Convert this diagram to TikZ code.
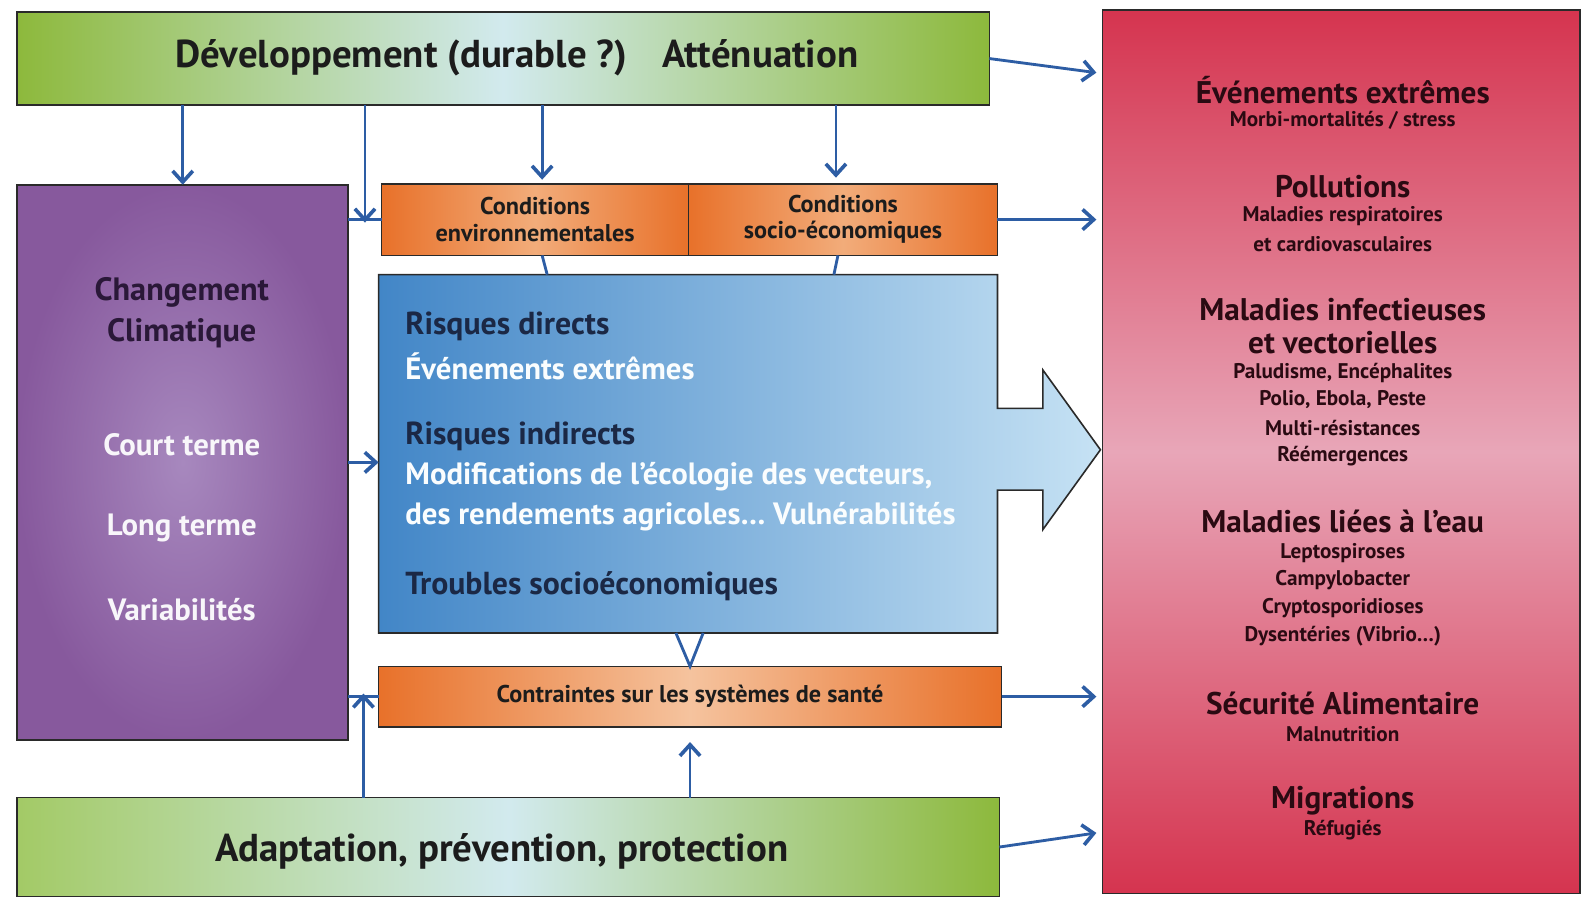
\documentclass[tikz,border=0pt]{standalone}
\usepackage{fontspec}
\setmainfont{PT Sans}
\usetikzlibrary{arrows.meta,calc}

\definecolor{linkblue}{HTML}{2D5DA4}
\definecolor{edge}{HTML}{2A2A2A}
\definecolor{ink}{HTML}{1C1C1C}
\definecolor{navy}{HTML}{1B2845}
\definecolor{plum}{HTML}{2A1838}
\definecolor{wine}{HTML}{2A0A12}
\definecolor{greenA}{HTML}{8DB93C}
\definecolor{greenB}{HTML}{A3CA66}
\definecolor{paleCyan}{HTML}{D2EAEE}
\definecolor{purpleOut}{HTML}{87599D}
\definecolor{purpleIn}{HTML}{A788BE}
\definecolor{redTop}{HTML}{D5344F}
\definecolor{redMid}{HTML}{E8A6B8}
\definecolor{orangeOut}{HTML}{E8712A}
\definecolor{orangeIn}{HTML}{F5C39E}
\definecolor{orangeSoft}{HTML}{F2AC7A}
\definecolor{blueDark}{HTML}{4286C7}
\definecolor{blueLight}{HTML}{C6E2F4}

\tikzset{
  box/.style={draw=edge, line width=1.6pt, inner sep=0pt, outer sep=0pt, anchor=north west},
  greenbar/.style={box, left color=greenA, right color=greenA, middle color=paleCyan},
  greenbarlow/.style={box, left color=greenB, right color=greenA, middle color=paleCyan},
  orangebox/.style={box, left color=orangeOut, right color=orangeOut, middle color=orangeIn},
  condbox/.style={box, left color=orangeOut, right color=orangeOut, middle color=orangeSoft},
  barlabel/.style={font=\fontsize{38.5}{44}\selectfont\bfseries, text=ink},
  condlabel/.style={font=\fontsize{24}{26}\selectfont\bfseries, text=ink, align=center},
  phead/.style={font=\fontsize{32}{36}\selectfont\bfseries, text=plum},
  plight/.style={font=\fontsize{30.5}{34}\selectfont\bfseries, text=white!92!purpleIn},
  bhead/.style={font=\fontsize{31.5}{36}\selectfont\bfseries, text=navy, anchor=west},
  blight/.style={font=\fontsize{30.5}{34}\selectfont\bfseries, text=white!92!blueLight, anchor=west},
  rhead/.style={font=\fontsize{31}{35}\selectfont\bfseries, text=wine},
  rsub/.style={font=\fontsize{21}{24}\selectfont\bfseries, text=wine},
  link/.style={draw=linkblue, line width=2.8pt},
  linkarrow/.style={link, -{Straight Barb[length=11pt,width=20pt,line width=3.6pt]}},
}

\begin{document}
\begin{tikzpicture}[x=1pt, y=-1pt]
\useasboundingbox (0,0) rectangle (1568,890);
\fill[white] (0,0) rectangle (1568,890);

% development bar
\node[greenbar, minimum width=963pt, minimum height=92pt] (top) at (17,12) {};
\node[barlabel] (toptext) at (512,57) {Développement (durable ?)\hspace{0.9em}Atténuation};

% climate box
\node[box, inner color=purpleIn, outer color=purpleOut, minimum width=328pt, minimum height=550pt] (climate) at (17,183) {};
\node[phead] (cc1) at (180,290) {Changement};
\node[phead] (cc2) at (180,330) {Climatique};
\node[plight] (cc3) at (180,441) {Court terme};
\node[plight] (cc4) at (180,523) {Long terme};
\node[plight] (cc5) at (180,604) {Variabilités};

% conditions
\node[condbox, minimum width=304pt, minimum height=71pt] (env) at (378,182) {};
\node[condlabel] (envtext) at (env.center) {Conditions\\environnementales};
\node[condbox, minimum width=306pt, minimum height=71pt] (socio) at (682,182) {};
\node[condlabel] (sociotext) at (socio.center) {Conditions\\socio-économiques};

% risk panel with its outgoing arrow
\node[box, draw=none, minimum width=613pt, minimum height=355pt] (risk) at (375,272) {};
\coordinate (ac) at ($(risk.east)+(0,-4)$);
\draw[edge, line width=1.6pt, left color=blueDark, right color=blueLight]
  (risk.north west) -- (risk.north east) -- ($(ac)+(0,-41)$) -- ($(ac)+(45,-41)$)
  -- ($(ac)+(45,-79)$) -- ($(ac)+(102,0)$) -- ($(ac)+(45,79)$) -- ($(ac)+(45,40)$)
  -- ($(ac)+(0,40)$) -- (risk.south east) -- (risk.south west) -- cycle;
\node[bhead] (rd) at (398,323) {Risques directs};
\node[blight] (rd2) at (398,363) {Événements extrêmes};
\node[bhead] (ri) at (398,432) {Risques indirects};
\node[blight] (ri2) at (398,472) {Modifications de l’écologie des vecteurs,};
\node[blight] (ri3) at (398,512) {des rendements agricoles… Vulnérabilités};
\node[bhead] (ts) at (398,581) {Troubles socioéconomiques};

% health systems
\node[orangebox, minimum width=617pt, minimum height=60pt] (health) at (375,660) {};
\node[condlabel] (healthtext) at (health.center) {Contraintes sur les systèmes de santé};

% adaptation bar
\node[greenbarlow, minimum width=973pt, minimum height=98pt] (bottom) at (17,790) {};
\node[barlabel] (bottomtext) at (497,843) {Adaptation, prévention, protection};

% health outcomes
\node[box, top color=redTop, bottom color=redTop, middle color=redMid, minimum width=473pt, minimum height=875pt] (red) at (1092,10) {};
\foreach \y/\s/\t in {
   89/rhead/{Événements extrêmes}, 119/rsub/{Morbi-mortalités / stress},
   185/rhead/{Pollutions}, 214/rsub/{Maladies respiratoires}, 242/rsub/{et cardiovasculaires},
   307/rhead/{Maladies infectieuses}, 339/rhead/{et vectorielles},
   369/rsub/{Paludisme, Encéphalites}, 396/rsub/{Polio, Ebola, Peste},
   424/rsub/{Multi-résistances}, 452/rsub/{Réémergences},
   517/rhead/{Maladies liées à l’eau}, 548/rsub/{Leptospiroses}, 575/rsub/{Campylobacter},
   602/rsub/{Cryptosporidioses}, 630/rsub/{Dysentéries (Vibrio…)},
   697/rhead/{Sécurité Alimentaire}, 727/rsub/{Malnutrition},
   793/rhead/{Migrations}, 822/rsub/{Réfugiés}}
  \node[\s] (out\y) at (1330,\y) {\t};

% junction points on the side links
\coordinate (j1) at ($(env.west -| climate.east)!0.5!(env.west)$);
\coordinate (j2) at ($(health.west -| climate.east)!0.5!(health.west)$);

% links from the development bar
\draw[linkarrow] (top.south -| climate.north) -- (climate.north);
\draw[linkarrow] (top.south -| j1) -- ([yshift=-3pt]j1);
\draw[linkarrow] ([xshift=7pt]top.south -| env.north) -- ([xshift=7pt,yshift=4pt]env.north);
\draw[linkarrow] ([xshift=-7pt]top.south -| socio.north) -- ([xshift=-7pt,yshift=6pt]socio.north);

% side links of the climate box
\draw[link] (env.west -| climate.east) -- (env.west);
\draw[linkarrow] (climate.east) -- (climate.east -| risk.west);
\draw[link] (health.west -| climate.east) -- (health.west);
\draw[linkarrow] (bottom.north -| j2) -- ([yshift=3pt]j2);

% conditions and risks
\draw[link] ([xshift=7pt]env.south) -- ([xshift=12pt]env.south |- risk.north);
\draw[link] ([xshift=-5pt]socio.south) -- ([xshift=-9pt]socio.south |- risk.north);
\draw[link] ([xshift=-14pt]health.north |- risk.south) -- (health.north) -- ([xshift=13pt]health.north |- risk.south);
\draw[linkarrow] (bottom.north -| health.south) -- ([yshift=-15pt]health.south);

% links towards the outcomes
\draw[linkarrow] (top.east) -- ($(red.west |- top.east)+(-6,14)$);
\draw[linkarrow] (socio.east) -- ($(socio.east -| red.west)+(-6,0)$);
\draw[linkarrow] (health.east) -- ($(health.east -| red.west)+(-6,0)$);
\draw[linkarrow] (bottom.east) -- ($(red.west |- bottom.east)+(-6,-14)$);
\end{tikzpicture}
\end{document}
